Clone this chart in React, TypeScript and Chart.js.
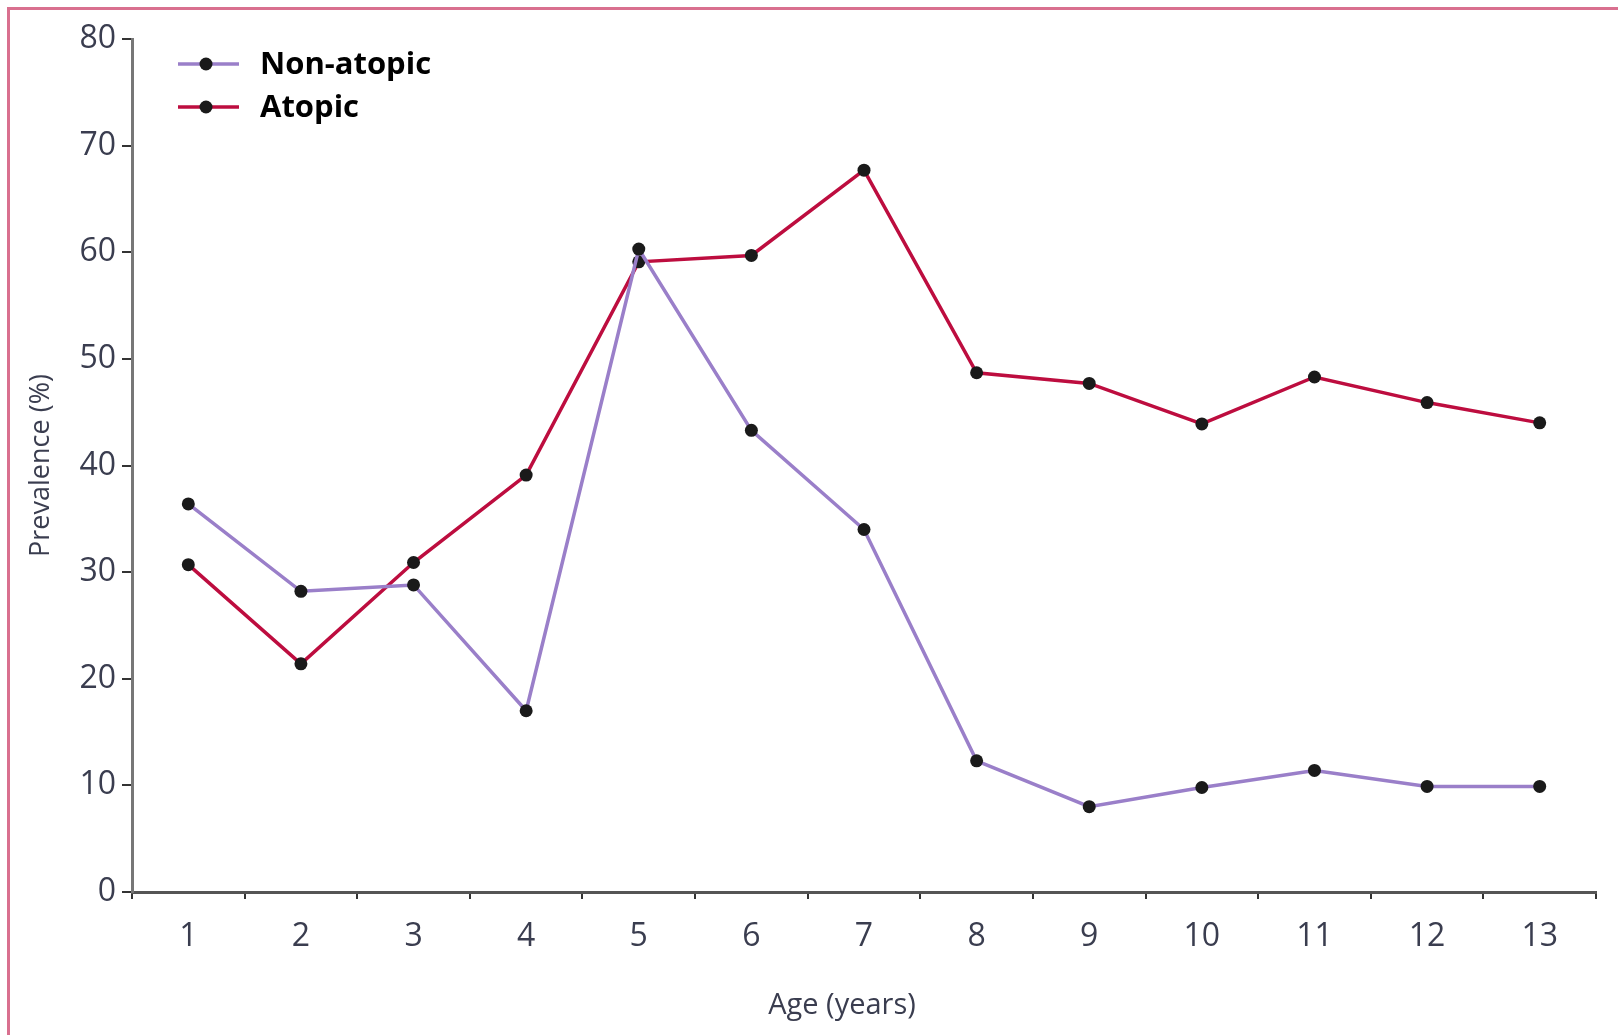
import React, { useEffect, useRef } from "react";
import { Chart, registerables } from "chart.js";

Chart.register(...registerables);

const ages = ["1", "2", "3", "4", "5", "6", "7", "8", "9", "10", "11", "12", "13"];
const nonAtopic = [36.4, 28.2, 28.8, 17.0, 60.3, 43.3, 34.0, 12.3, 8.0, 9.8, 11.4, 9.9, 9.9];
const atopic = [30.7, 21.4, 30.9, 39.1, 59.1, 59.7, 67.7, 48.7, 47.7, 43.9, 48.3, 45.9, 44.0];
const seriesLabels = ["Non-atopic", "Atopic"];
const yTitle = "Prevalence (%)";
const xTitle = "Age (years)";

const PURPLE = "#9a7fc9";
const RED = "#bd0d3f";
const TICK_COLOR = "#3a3d4f";

const insideLegend = {
  id: "insideLegend",
  afterDatasetsDraw(chart: any) {
    const { ctx, chartArea } = chart;
    const x0 = chartArea.left + 46;
    const x1 = chartArea.left + 107;
    const xd = chartArea.left + 74;
    const xt = chartArea.left + 128;
    const rows = [chartArea.top + 25, chartArea.top + 68];
    ctx.save();
    chart.data.datasets.forEach((ds: any, i: number) => {
      const y = rows[i];
      ctx.strokeStyle = ds.borderColor;
      ctx.lineWidth = 3.5;
      ctx.beginPath();
      ctx.moveTo(x0, y);
      ctx.lineTo(x1, y);
      ctx.stroke();
      ctx.fillStyle = "#1a1a1a";
      ctx.beginPath();
      ctx.arc(xd, y, 6.5, 0, Math.PI * 2);
      ctx.fill();
      ctx.fillStyle = "#000";
      ctx.font = "bold 31px 'Open Sans'";
      ctx.textAlign = "left";
      ctx.textBaseline = "middle";
      ctx.fillText(ds.label, xt, y + 1);
    });
    ctx.restore();
  },
};

const xAxisTitle = {
  id: "xAxisTitle",
  afterDraw(chart: any) {
    const { ctx, chartArea } = chart;
    ctx.save();
    ctx.fillStyle = TICK_COLOR;
    ctx.font = "29px 'Open Sans'";
    ctx.textAlign = "center";
    ctx.textBaseline = "middle";
    ctx.fillText(xTitle, (chartArea.left + chartArea.right) / 2 - 22, 1006);
    ctx.restore();
  },
};

export default function App() {
  const ref = useRef<HTMLCanvasElement | null>(null);
  useEffect(() => {
    if (!ref.current) return;
    const chart = new Chart(ref.current, {
      type: "line",
      data: {
        labels: ages,
        datasets: [
          {
            label: seriesLabels[0],
            data: nonAtopic,
            borderColor: PURPLE,
            borderWidth: 3.5,
            pointRadius: 6.5,
            pointBackgroundColor: "#1a1a1a",
            pointBorderWidth: 0,
            tension: 0,
          },
          {
            label: seriesLabels[1],
            data: atopic,
            borderColor: RED,
            borderWidth: 3.5,
            pointRadius: 6.5,
            pointBackgroundColor: "#1a1a1a",
            pointBorderWidth: 0,
            tension: 0,
          },
        ],
      },
      options: {
        animation: false,
        responsive: false,
        maintainAspectRatio: false,
        layout: { padding: { left: 0, right: 22, top: 39, bottom: 0 } },
        plugins: { legend: { display: false }, tooltip: { enabled: false } },
        scales: {
          x: {
            type: "category",
            offset: true,
            grid: {
              display: true,
              drawOnChartArea: false,
              drawTicks: true,
              tickLength: 7,
              offset: true,
              color: "#333",
              lineWidth: 2,
            },
            border: { display: true, color: "#555", width: 3 },
            ticks: {
              color: TICK_COLOR,
              font: { family: "'Open Sans'", size: 32 },
              padding: 19,
              maxRotation: 0,
              autoSkip: false,
            },
            title: { display: false },
            afterFit(scale: any) {
              scale.height = 143;
            },
          },
          y: {
            min: 0,
            max: 80,
            ticks: {
              stepSize: 10,
              color: TICK_COLOR,
              font: { family: "'Open Sans'", size: 32 },
              padding: 6,
            },
            grid: {
              display: true,
              drawOnChartArea: false,
              drawTicks: true,
              tickLength: 10,
              color: "#333",
              lineWidth: 2,
            },
            border: { display: true, color: "#777", width: 3 },
            title: {
              display: true,
              text: yTitle,
              color: TICK_COLOR,
              font: { family: "'Open Sans'", size: 27 },
              padding: { top: 25, bottom: 0 },
            },
            afterFit(scale: any) {
              scale.width = 132;
            },
          },
        },
      },
      plugins: [insideLegend, xAxisTitle],
    });
    return () => chart.destroy();
  }, []);

  return (
    <div style={{ position: "fixed", left: 0, top: 0, width: 1618, height: 1035, background: "#fff", overflow: "hidden" }}>
      <div
        style={{
          position: "absolute",
          left: 7,
          top: 7,
          right: 0,
          bottom: 0,
          borderLeft: "3px solid #d9708f",
          borderTop: "3px solid #d9708f",
        }}
      />
      <canvas ref={ref} width={1618} height={1035} style={{ position: "absolute", left: 0, top: 0, width: 1618, height: 1035 }} />
    </div>
  );
}
